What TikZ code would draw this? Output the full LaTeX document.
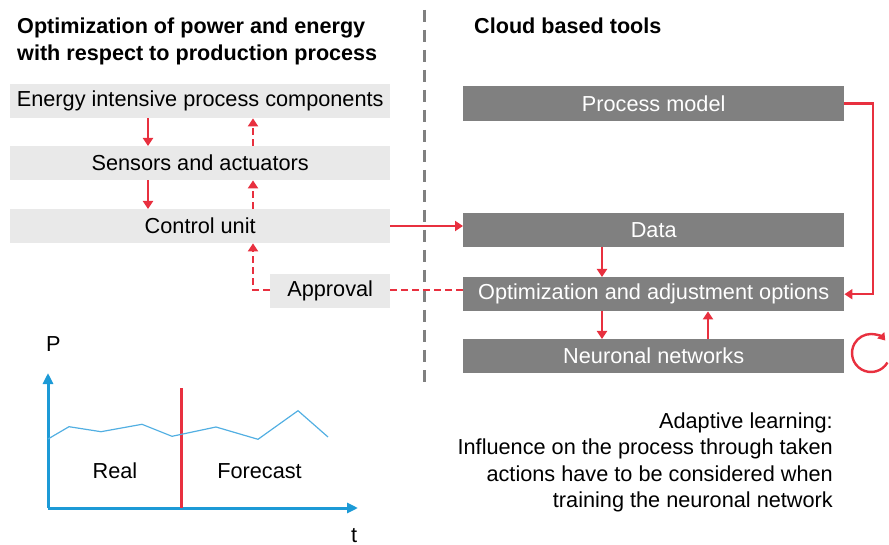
\documentclass[tikz,border=0pt]{standalone}
\usepackage{fontspec}
\setmainfont{Liberation Sans}
\usetikzlibrary{arrows.meta}
\definecolor{lbox}{HTML}{E9E9E9}
\definecolor{dbox}{HTML}{808080}
\definecolor{myred}{HTML}{E8303F}
\definecolor{axblue}{HTML}{1C9AD6}
\definecolor{lnblue}{HTML}{52AFE2}
\definecolor{sepgray}{HTML}{808080}
\begin{document}
\begin{tikzpicture}[x=1pt,y=1pt,
  boxtext/.style={font=\fontsize{21.7}{24}\selectfont},
  lightbox/.style={boxtext, fill=lbox, text=black, minimum height=34pt, inner sep=0pt, anchor=north west},
  darkbox/.style={boxtext, fill=dbox, text=white, minimum height=34pt, minimum width=381pt, inner sep=0pt, anchor=north west},
  redarr/.style={draw=myred, line width=2.6pt, -{Triangle[length=8pt,width=10pt]}},
  reddash/.style={redarr, dash pattern=on 7pt off 4pt},
  redline/.style={draw=myred, line width=2.6pt, dash pattern=on 7pt off 4pt},
  axis/.style={draw=axblue, line width=3pt, -{Triangle[length=11pt,width=10pt]}},
  titletext/.style={font=\fontsize{21.6}{27}\selectfont\bfseries, align=left, inner sep=0pt},
  plaintext/.style={font=\fontsize{21.7}{26.5}\selectfont, inner sep=0pt}
]
\useasboundingbox (0,0) rectangle (889,-545);

% titles
\node[titletext, anchor=base west] (t1) at (17,-34) {Optimization of power and energy};
\node[titletext, anchor=base west] (t2) at (17,-60.5) {with respect to production process};
\node[titletext, anchor=base west] (t3) at (474,-34) {Cloud based tools};

% separator
\coordinate (sepTop) at (424,-10);
\coordinate (sepBot) at (424,-388);
\draw[sepgray, line width=3pt, dash pattern=on 12pt off 8pt] (sepTop) -- (sepBot);

% left boxes
\node[lightbox, minimum width=380pt] (e) at (10,-84) {Energy intensive process components};
\node[lightbox, minimum width=380pt] (s) at (10,-146) {Sensors and actuators};
\node[lightbox, minimum width=380pt] (c) at (10,-209) {Control unit};
\node[lightbox, minimum width=120pt] (ap) at (270,-274) {Approval};

% right boxes
\node[darkbox, minimum height=35pt] (pm) at (463,-86) {Process model};
\node[darkbox] (d) at (463,-213) {Data};
\node[darkbox] (o) at (463,-277) {Optimization and adjustment options};
\node[darkbox] (n) at (463,-339) {Neuronal networks};

% helper positions
\coordinate (xa) at (148,0);
\coordinate (xb) at (253,0);
\coordinate (xc) at (602,0);
\coordinate (xd) at (708,0);
\coordinate (xe) at (873,0);
\coordinate (yc) at (0,-226);
\coordinate (yap) at (0,-290);

% left arrows
\draw[redarr] (e.south -| xa) -- (s.north -| xa);
\draw[reddash] (s.north -| xb) -- (e.south -| xb);
\draw[redarr] (s.south -| xa) -- (c.north -| xa);
\draw[reddash] (c.north -| xb) -- (s.south -| xb);
\draw[reddash] (ap.west |- yap) -| (c.south -| xb);

% cross arrows
\draw[redarr] (c.east |- yc) -- (d.west |- yc);
\draw[redline] (ap.east |- yap) -- (o.west |- yap);

% right arrows
\draw[redarr] (pm.east) -| (xe |- o.east) -- (o.east);
\draw[redarr] (d.south -| xc) -- (o.north -| xc);
\draw[redarr] (o.south -| xc) -- (n.north -| xc);
\draw[redarr] (n.north -| xd) -- (o.south -| xd);

% cycle arrow
\coordinate (cyc) at (871,-353);
\draw[myred, line width=2.4pt, -{Triangle[length=7pt,width=9pt]}] ([shift={(-30:19)}]cyc) arc[start angle=-30, end angle=-319, radius=19];

% chart
\coordinate (org) at (48,-508);
\coordinate (ytop) at (48,-373);
\coordinate (xend) at (358,-508);
\draw[axis] (org) -- (ytop);
\draw[axis] (org) -- (xend);
\coordinate (rtop) at (181,-388);
\coordinate (rbot) at (181,-508);
\draw[myred, line width=3pt] (rtop) -- (rbot);
\draw[lnblue, line width=1.2pt] (48,-439) -- (69,-426.7) -- (101,-431.7) -- (142,-424.3) -- (172,-436.3) -- (216,-427) -- (258,-439.3) -- (298,-410.7) -- (328,-437);
\node[plaintext, anchor=base west] (P) at (46,-352) {P};
\node[plaintext, anchor=base west] (tt) at (351,-542) {t};
\node[plaintext, anchor=base] (real) at (115,-478) {Real};
\node[plaintext, anchor=base] (fc) at (259.5,-478) {Forecast};

% note
\node[plaintext, align=right, anchor=north east] (note) at (833,-412.5) {Adaptive learning:\\Influence on the process through taken\\actions have to be considered when\\training the neuronal network};
\end{tikzpicture}
\end{document}
